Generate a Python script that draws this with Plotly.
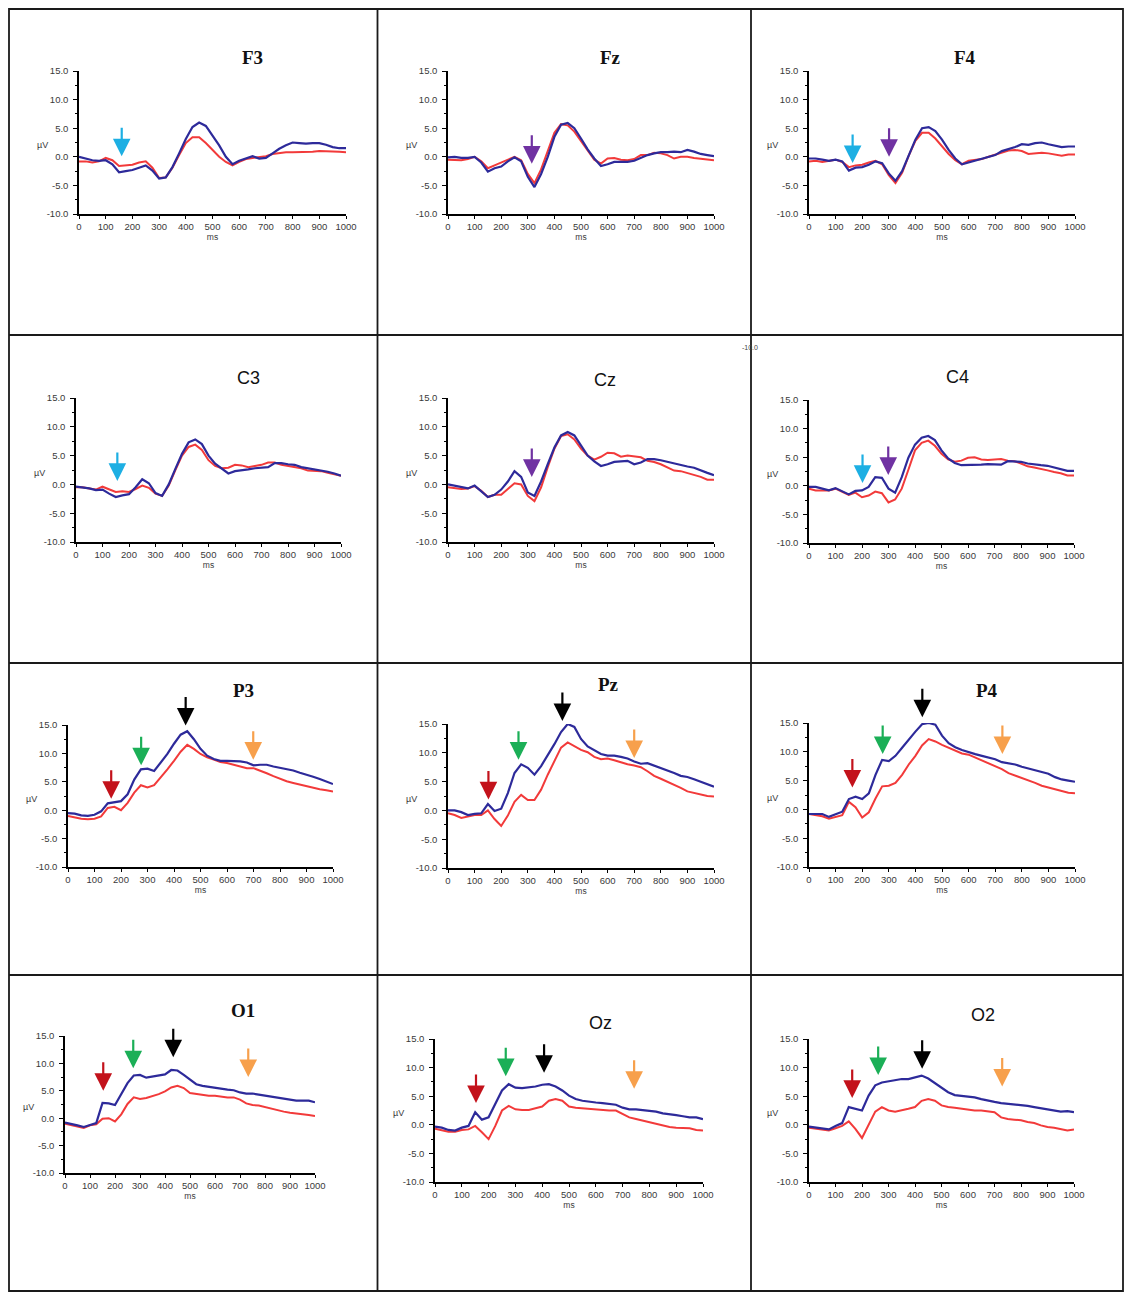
import plotly.graph_objects as go

# ---------------- data ----------------
T = list(range(0, 1001, 25))  # ms
PANELS = ["F3", "Fz", "F4", "C3", "Cz", "C4", "P3", "Pz", "P4", "O1", "Oz", "O2"]

F3_blue = [0.0,-0.3,-0.6,-0.7,-0.6,-1.3,-2.7,-2.5,-2.3,-1.9,-1.5,-2.4,-3.8,-3.6,-1.8,0.6,3.1,5.2,6.0,5.4,3.8,2.0,0.0,-1.3,-0.7,-0.3,0.1,-0.3,-0.2,0.6,1.4,2.0,2.5,2.4,2.3,2.4,2.4,2.1,1.7,1.5,1.5]
F3_red = [-0.8,-0.8,-1.0,-0.8,-0.2,-0.6,-1.6,-1.5,-1.4,-1.0,-0.8,-1.9,-3.7,-3.6,-1.9,0.3,2.4,3.4,3.4,2.4,1.2,0.0,-0.9,-1.5,-0.9,-0.4,-0.2,-0.1,0.1,0.5,0.7,0.8,0.8,0.8,0.8,0.9,1.0,1.0,1.0,0.9,0.8]
Fz_blue = [-0.1,0.0,-0.2,-0.2,0.0,-1.0,-2.6,-2.0,-1.7,-0.8,-0.1,-0.8,-3.5,-5.3,-3.0,0.0,3.5,5.6,5.9,5.0,3.2,1.3,-0.3,-1.6,-1.3,-0.9,-0.9,-0.9,-0.7,-0.2,0.3,0.6,0.8,0.8,0.9,0.8,1.2,0.9,0.5,0.3,0.1]
Fz_red = [-0.5,-0.6,-0.6,-0.4,0.0,-0.8,-2.0,-1.5,-1.0,-0.5,0.0,-0.6,-3.0,-4.6,-2.2,1.0,4.2,5.7,5.5,4.4,2.8,1.0,-0.5,-1.2,-0.3,-0.2,-0.5,-0.6,-0.4,0.3,0.3,0.7,0.6,0.3,-0.3,0.0,0.0,-0.2,-0.3,-0.5,-0.6]
F4_blue = [-0.3,-0.3,-0.5,-0.7,-0.5,-0.8,-2.4,-1.9,-1.8,-1.4,-0.8,-1.1,-2.9,-4.2,-2.5,0.3,3.0,5.0,5.2,4.5,3.0,1.2,-0.3,-1.3,-1.0,-0.6,-0.4,-0.1,0.3,1.0,1.3,1.7,2.2,2.1,2.4,2.5,2.2,1.9,1.7,1.8,1.8]
F4_red = [-0.8,-0.7,-0.9,-0.7,-0.5,-0.9,-1.8,-1.5,-1.4,-1.0,-0.7,-1.3,-3.2,-4.6,-2.8,0.2,2.8,4.2,4.2,3.2,1.9,0.5,-0.6,-1.3,-0.7,-0.5,-0.4,0.0,0.4,0.8,1.1,1.2,1.0,0.5,0.6,0.7,0.6,0.4,0.2,0.4,0.4]
C3_blue = [-0.4,-0.5,-0.7,-1.0,-0.9,-1.6,-2.2,-1.9,-1.7,-0.5,0.9,0.2,-1.5,-2.0,0.0,2.7,5.3,7.3,7.8,7.0,5.0,3.6,2.7,1.9,2.3,2.4,2.6,2.8,2.9,3.0,3.7,3.7,3.5,3.4,3.0,2.8,2.7,2.5,2.2,1.9,1.5]
C3_red = [-0.5,-0.5,-0.7,-0.9,-0.4,-0.9,-1.3,-1.2,-1.3,-0.8,-0.2,-0.6,-1.6,-2.0,-0.2,2.5,5.0,6.5,6.9,6.0,4.2,3.2,2.8,2.9,3.4,3.3,3.0,3.2,3.4,3.8,3.8,3.4,3.2,3.0,2.8,2.4,2.4,2.3,2.0,1.8,1.5]
Cz_blue = [0.0,-0.2,-0.5,-0.7,-0.2,-1.2,-2.2,-1.8,-0.9,0.5,2.3,1.3,-1.4,-2.0,0.5,3.5,6.4,8.5,9.1,8.5,6.8,5.0,4.0,3.2,3.5,3.9,4.0,4.1,3.5,3.8,4.4,4.4,4.2,3.9,3.6,3.3,3.1,2.9,2.4,2.0,1.6]
Cz_red = [-0.5,-0.6,-0.8,-0.7,-0.3,-1.1,-2.2,-1.8,-1.8,-0.8,0.2,0.0,-2.0,-2.9,-0.5,3.0,6.2,8.4,8.7,7.8,6.2,5.0,4.3,4.8,5.5,5.4,4.8,5.0,4.8,4.7,4.1,3.9,3.5,2.9,2.4,2.3,2.0,1.7,1.3,0.8,0.8]
C4_blue = [-0.2,-0.2,-0.5,-0.8,-0.4,-1.0,-1.5,-0.9,-0.8,-0.2,1.5,1.4,-0.5,-1.2,1.5,4.9,7.2,8.4,8.7,8.0,6.2,4.8,4.0,3.6,3.6,3.7,3.7,3.8,3.7,3.7,4.3,4.3,4.2,3.9,3.7,3.6,3.5,3.2,2.8,2.6,2.6]
C4_red = [-0.5,-0.8,-0.8,-0.8,-0.5,-1.0,-1.6,-1.2,-2.0,-1.7,-1.0,-1.3,-2.9,-2.4,-0.5,2.8,6.2,7.5,7.9,7.0,5.6,4.6,4.2,4.4,4.9,5.0,4.6,4.5,4.6,4.7,4.4,4.3,3.9,3.4,3.2,3.0,2.7,2.4,2.2,1.8,1.8]
P3_blue = [-0.5,-0.6,-0.9,-1.0,-0.8,-0.2,1.2,1.4,1.6,2.8,5.4,7.2,7.3,6.9,8.4,9.9,11.7,13.3,13.9,12.5,10.8,9.6,9.0,8.7,8.7,8.7,8.6,8.4,7.9,8.0,8.0,7.7,7.5,7.2,7.0,6.6,6.3,5.9,5.5,5.0,4.6]
P3_red = [-1.0,-1.3,-1.5,-1.6,-1.5,-1.1,0.4,0.6,0.0,1.3,3.1,4.4,4.0,4.4,5.7,7.2,8.7,10.3,11.5,10.8,9.9,9.3,8.9,8.5,8.3,8.0,7.6,7.4,7.4,7.0,6.5,6.0,5.5,5.1,4.8,4.5,4.3,4.0,3.7,3.5,3.3]
Pz_blue = [0.0,0.0,-0.3,-0.8,-0.6,-0.5,1.1,-0.1,0.3,3.0,6.5,8.0,7.4,6.2,7.7,9.5,11.5,13.6,15.0,14.5,12.4,11.1,10.4,9.8,9.5,9.5,9.3,9.0,8.5,8.1,8.2,7.8,7.4,7.0,6.5,6.0,5.8,5.4,5.0,4.6,4.1]
Pz_red = [-0.5,-0.8,-1.3,-1.0,-0.8,-0.8,0.0,-1.5,-2.7,-0.9,1.5,2.7,1.8,1.8,3.6,6.2,8.6,10.9,11.8,11.1,10.5,10.1,9.3,8.9,9.0,8.7,8.3,8.0,7.8,7.5,6.8,6.0,5.5,5.0,4.5,3.9,3.3,3.0,2.7,2.5,2.4]
P4_blue = [-0.8,-0.8,-0.8,-1.3,-0.8,-0.4,1.8,2.2,1.8,2.8,6.0,8.6,8.4,9.3,10.7,12.2,13.5,14.8,15.0,14.7,12.8,11.5,10.8,10.3,9.9,9.6,9.3,9.0,8.7,8.2,8.0,7.8,7.4,7.1,6.8,6.5,6.2,5.6,5.2,5.0,4.8]
P4_red = [-0.8,-1.0,-1.2,-1.6,-1.3,-1.0,1.3,0.4,-1.4,-0.5,1.9,4.0,4.1,4.6,6.0,7.8,9.3,11.1,12.2,11.8,11.2,10.7,10.2,9.7,9.5,9.0,8.4,7.9,7.5,7.0,6.3,5.9,5.4,5.0,4.6,4.1,3.8,3.4,3.1,2.9,2.8]
O1_blue = [-0.8,-1.0,-1.3,-1.6,-1.2,-0.9,2.8,2.7,2.4,4.3,6.4,7.8,7.9,7.4,7.6,7.8,8.0,8.8,8.7,7.9,7.0,6.2,5.9,5.7,5.5,5.4,5.2,5.1,4.7,4.5,4.5,4.3,4.1,3.9,3.8,3.5,3.4,3.2,3.2,3.2,2.9]
O1_red = [-1.0,-1.2,-1.5,-1.8,-1.3,-1.1,-0.1,0.0,-0.6,0.7,2.6,3.8,3.5,3.7,4.0,4.4,4.9,5.6,5.9,5.5,4.6,4.4,4.3,4.1,4.1,3.9,3.8,3.8,3.4,2.7,2.4,2.3,2.0,1.7,1.5,1.2,1.0,0.9,0.7,0.6,0.4]
Oz_blue = [-0.3,-0.5,-0.9,-1.0,-0.5,-0.2,2.2,0.9,1.3,3.6,6.0,7.1,6.5,6.4,6.5,6.7,7.0,7.1,6.7,6.0,5.1,4.5,4.2,4.0,3.9,3.8,3.7,3.5,3.0,2.7,2.7,2.6,2.5,2.3,2.0,1.9,1.7,1.5,1.3,1.3,1.0]
Oz_red = [-0.7,-0.9,-1.2,-1.2,-0.9,-0.8,-0.2,-1.3,-2.5,-0.2,2.5,3.3,2.7,2.6,2.6,2.9,3.2,4.2,4.5,4.2,3.2,3.0,2.9,2.7,2.6,2.6,2.5,2.5,1.9,1.3,1.0,0.7,0.4,0.1,-0.2,-0.4,-0.5,-0.6,-0.6,-0.9,-1.0]
O2_blue = [-0.3,-0.5,-0.6,-0.8,-0.2,0.3,3.1,2.8,2.5,5.1,6.9,7.4,7.6,7.7,8.0,8.0,8.3,8.6,8.1,7.3,6.4,5.7,5.2,5.1,5.0,4.8,4.5,4.2,4.0,3.8,3.7,3.5,3.4,3.3,3.1,2.9,2.8,2.5,2.3,2.4,2.2]
O2_red = [-0.5,-0.7,-0.8,-1.0,-0.6,-0.2,0.6,-0.7,-2.3,-0.1,2.3,3.1,2.5,2.3,2.5,2.8,3.1,4.2,4.5,4.2,3.4,3.1,3.0,2.8,2.7,2.5,2.5,2.4,2.2,1.3,1.0,0.9,0.8,0.5,0.3,-0.1,-0.4,-0.5,-0.8,-1.0,-0.8]

BLUE = {"F3": F3_blue, "Fz": Fz_blue, "F4": F4_blue, "C3": C3_blue, "Cz": Cz_blue, "C4": C4_blue,
        "P3": P3_blue, "Pz": Pz_blue, "P4": P4_blue, "O1": O1_blue, "Oz": Oz_blue, "O2": O2_blue}
RED = {"F3": F3_red, "Fz": Fz_red, "F4": F4_red, "C3": C3_red, "Cz": Cz_red, "C4": C4_red,
       "P3": P3_red, "Pz": Pz_red, "P4": P4_red, "O1": O1_red, "Oz": Oz_red, "O2": O2_red}

# component arrows: panel, kind, latency (ms), tip amplitude (uV)
ARROW_PANEL = ["F3", "Fz", "F4", "F4", "C3", "Cz", "C4", "C4",
               "P3", "P3", "P3", "P3", "Pz", "Pz", "Pz", "Pz", "P4", "P4", "P4", "P4",
               "O1", "O1", "O1", "O1", "Oz", "Oz", "Oz", "Oz", "O2", "O2", "O2", "O2"]
ARROW_KIND = ["cyan", "purple", "cyan", "purple", "cyan", "purple", "cyan", "purple"] + \
             ["red", "green", "black", "orange"] * 6
ARROW_MS = [160, 315, 164, 301, 156, 315, 202, 299,
            163, 276, 444, 699, 152, 265, 430, 700, 163, 277, 426, 727,
            153, 273, 433, 733, 153, 264, 407, 743, 163, 261, 427, 729]
ARROW_UV = [0.1, -1.2, -1.1, 0.0, 0.6, 1.3, 0.5, 1.9,
            2.0, 7.9, 14.9, 8.9, 1.9, 8.8, 15.5, 9.1, 3.8, 9.6, 16.0, 9.6,
            5.0, 9.1, 11.1, 7.5, 3.8, 8.5, 9.1, 6.3, 4.7, 8.7, 9.8, 6.7]

Y_TICKS = [-10, -5, 0, 5, 10, 15]
Y_TICKTEXT = ["-10.0", "-5.0", "0.0", "5.0", "10.0", "15.0"]
X_TICKS = list(range(0, 1001, 100))

# ---------------- layout / style ----------------
W, H = 1132, 1300
# plot boxes in pixels: left(0 ms), right(1000 ms), top(+15), bottom(-10)
BOX = {"F3": (79, 346, 71, 214), "Fz": (448, 714, 71, 214), "F4": (809, 1075, 71, 214),
       "C3": (76, 341, 398, 542), "Cz": (448, 714, 398, 542), "C4": (809, 1074, 400, 543),
       "P3": (68, 333, 725, 867), "Pz": (448, 714, 724, 868), "P4": (809, 1075, 723, 867),
       "O1": (65, 315, 1036, 1173), "Oz": (435, 703, 1039, 1182), "O2": (809, 1074, 1039, 1182)}
TITLE_POS = {"F3": (252, 57), "Fz": (611, 57), "F4": (965, 57),
             "C3": (248, 378), "Cz": (605, 380), "C4": (957, 377),
             "P3": (243, 690), "Pz": (608, 684), "P4": (987, 690),
             "O1": (243, 1010), "Oz": (600, 1023), "O2": (983, 1015)}
SERIF_TITLES = {"F3", "Fz", "F4", "P3", "Pz", "P4", "O1"}
COL_BLUE = "#2D2A9A"
COL_RED = "#F23A3A"
ARROW_COL = {"cyan": "#1DAFE3", "purple": "#7032A2", "red": "#C3121B",
             "green": "#1BAF57", "black": "#000000", "orange": "#F7A04C"}
TICKFONT = dict(family="Liberation Sans, Arial, sans-serif", size=9.5, color="#3a3a3a")

fig = go.Figure()
layout = {}
annotations = []

for i, name in enumerate(PANELS, start=1):
    sfx = "" if i == 1 else str(i)
    l, r, t, b = BOX[name]
    fig.add_trace(go.Scatter(x=T, y=RED[name], xaxis="x" + sfx, yaxis="y" + sfx, mode="lines",
                             line=dict(color=COL_RED, width=2), cliponaxis=False,
                             showlegend=False, hoverinfo="skip"))
    fig.add_trace(go.Scatter(x=T, y=BLUE[name], xaxis="x" + sfx, yaxis="y" + sfx, mode="lines",
                             line=dict(color=COL_BLUE, width=2.2), cliponaxis=False,
                             showlegend=False, hoverinfo="skip"))
    layout["xaxis" + sfx] = dict(domain=[l / W, r / W], anchor="y" + sfx, range=[0, 1000],
                                 tickmode="array", tickvals=X_TICKS, ticks="outside", ticklen=3,
                                 tickwidth=1, tickcolor="#000", showline=True, linecolor="#000",
                                 linewidth=1.5, showgrid=False, zeroline=False, tickfont=TICKFONT,
                                 title=dict(text="ms", font=dict(TICKFONT, size=8.5), standoff=0),
                                 automargin=False, fixedrange=True)
    layout["yaxis" + sfx] = dict(domain=[1 - b / H, 1 - t / H], anchor="x" + sfx, range=[-10, 15],
                                 tickmode="array", tickvals=Y_TICKS, ticktext=Y_TICKTEXT,
                                 ticks="outside", ticklen=4, tickwidth=1, tickcolor="#000",
                                 ticklabelstandoff=3,
                                 minor=dict(tickvals=[-7.5, -2.5, 2.5, 7.5, 12.5], ticks="outside",
                                            ticklen=2.5, tickcolor="#000"),
                                 showline=True, linecolor="#000", linewidth=1.5, showgrid=False,
                                 zeroline=False, tickfont=TICKFONT, automargin=False, fixedrange=True)
    # unit label
    annotations.append(dict(text="µV", xref="paper", yref="y" + sfx, x=(l - 37) / W, y=2,
                            showarrow=False, font=dict(TICKFONT, size=9), xanchor="center", yanchor="middle"))
    # panel title
    tx, ty = TITLE_POS[name]
    if name in SERIF_TITLES:
        tfont = dict(family="Liberation Serif, Times New Roman, serif", size=19, color="#111111", weight="bold")
    else:
        tfont = dict(family="Liberation Sans, Arial, sans-serif", size=18, color="#111111")
    annotations.append(dict(text=name, xref="paper", yref="paper", x=tx / W, y=1 - ty / H,
                            showarrow=False, xanchor="center", yanchor="middle", font=tfont))

px_per_uv = {n: (BOX[n][3] - BOX[n][2]) / 25.0 for n in PANELS}
for pnl, kind, ms, uv in zip(ARROW_PANEL, ARROW_KIND, ARROW_MS, ARROW_UV):
    i = PANELS.index(pnl) + 1
    sfx = "" if i == 1 else str(i)
    tip = min(uv, 15)
    annotations.append(dict(x=ms, y=tip, xref="x" + sfx, yref="y" + sfx, text="",
                            showarrow=True, ax=0, ay=-30, arrowhead=2, arrowsize=1.6,
                            arrowwidth=2.2, arrowcolor=ARROW_COL[kind], standoff=0,
                            yshift=(uv - tip) * px_per_uv[pnl]))

# stray label at top-left of the C4 cell
annotations.append(dict(text="-10.0", xref="paper", yref="paper", x=760 / W, y=1 - 342 / H,
                        showarrow=False, font=dict(family="Liberation Sans, Arial", size=7, color="#444")))

# table borders
shapes = [dict(type="rect", xref="paper", yref="paper", x0=9 / W, x1=1123 / W, y0=1 - 1291 / H, y1=1 - 9 / H,
               line=dict(color="#1a1a1a", width=1.8))]
for xv in (377.5, 751):
    shapes.append(dict(type="line", xref="paper", yref="paper", x0=xv / W, x1=xv / W,
                       y0=1 - 1291 / H, y1=1 - 9 / H, line=dict(color="#1a1a1a", width=1.8)))
for yv in (335, 663, 975):
    shapes.append(dict(type="line", xref="paper", yref="paper", x0=9 / W, x1=1123 / W,
                       y0=1 - yv / H, y1=1 - yv / H, line=dict(color="#1a1a1a", width=1.8)))

fig.update_layout(width=W, height=H, margin=dict(l=0, r=0, t=0, b=0, autoexpand=False),
                  paper_bgcolor="white", plot_bgcolor="white", showlegend=False,
                  annotations=annotations, shapes=shapes, **layout)

fig.write_html("out.html", config={"displayModeBar": False},
               post_script="document.body.style.margin='0';document.body.style.padding='0';"
                           "document.documentElement.style.overflow='hidden';")
